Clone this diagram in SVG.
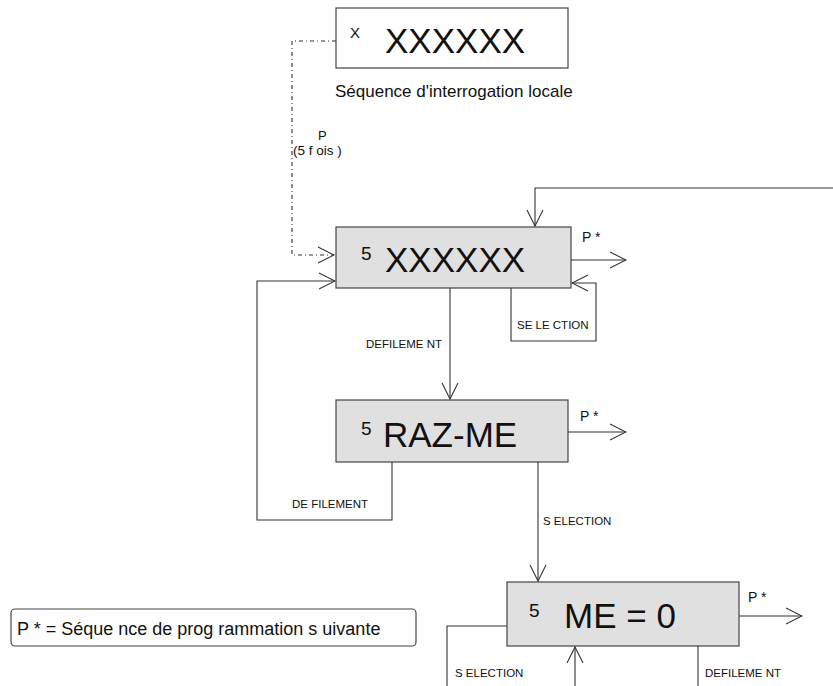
<svg xmlns="http://www.w3.org/2000/svg" width="833" height="686" viewBox="0 0 833 686">
<style>
text{font-family:"Liberation Sans",Arial,sans-serif;fill:#111}
.box{fill:#e0e0e0;stroke:#444;stroke-width:1.2}
.wbox{fill:#fff;stroke:#444;stroke-width:1.2}
.ln{fill:none;stroke:#333;stroke-width:1.1}
.dot{fill:none;stroke:#333;stroke-width:1.1;stroke-dasharray:4,3,1,3}
.big{font-size:35px}
.num{font-size:19px}
.lbl{font-size:11.5px}
.p{font-size:14px}
</style>
<defs>
<marker id="ah" viewBox="-17 -10 18 20" markerWidth="18" markerHeight="20" refX="0" refY="0" orient="auto" markerUnits="userSpaceOnUse">
<path d="M-16,-8 L0,0 L-16,8" fill="none" stroke="#333" stroke-width="1.1"/>
</marker>
</defs>
<rect width="833" height="686" fill="#fff"/>

<g id="top-node">
<rect class="wbox" x="336" y="8" width="232" height="60"/>
<text x="350" y="38" style="font-size:15px">X</text>
<text class="big" x="385" y="53">XXXXXX</text>
<text x="335" y="97" style="font-size:17px">Séquence d'interrogation locale</text>
</g>

<g id="node-xxxxxx">
<rect class="box" x="336" y="227" width="235" height="61"/>
<text class="num" x="361" y="260">5</text>
<text class="big" x="385" y="272">XXXXXX</text>
</g>

<g id="node-razme">
<rect class="box" x="336" y="400" width="232" height="62"/>
<text class="num" x="361" y="435">5</text>
<text class="big" x="383" y="447">RAZ-ME</text>
</g>

<g id="node-me0">
<rect class="box" x="507" y="582" width="232" height="64"/>
<text class="num" x="529" y="617">5</text>
<text class="big" x="564" y="628">ME = 0</text>
</g>

<g id="legend">
<rect class="wbox" x="11" y="609" width="405" height="37" rx="4"/>
<text x="17" y="635" style="font-size:18px">P * = Séque nce de prog rammation s uivante</text>
</g>

<g id="connectors">
<path class="dot" d="M336,41 H292 V255 H334" marker-end="url(#ah)"/>
<text x="318" y="140" style="font-size:13px">P</text>
<text x="293" y="155" style="font-size:13.5px">(5 f ois )</text>

<path class="ln" d="M833,188 H535 V226" marker-end="url(#ah)"/>

<path class="ln" d="M571,260 H626" marker-end="url(#ah)"/>
<text class="p" x="582" y="242">P *</text>
<path class="ln" d="M568,432 H626" marker-end="url(#ah)"/>
<text class="p" x="580" y="421">P *</text>
<path class="ln" d="M739,616 H802" marker-end="url(#ah)"/>
<text class="p" x="748" y="602">P *</text>

<path class="ln" d="M511,288 V341 H596 V283 H572" marker-end="url(#ah)"/>
<text class="lbl" x="517" y="329">SE LE CTION</text>

<path class="ln" d="M450,288 V399" marker-end="url(#ah)"/>
<text class="lbl" x="366" y="348">DEFILEME NT</text>

<path class="ln" d="M392,462 V520 H257 V281 H335" marker-end="url(#ah)"/>
<text class="lbl" x="292" y="508">DE FILEMENT</text>

<path class="ln" d="M538,462 V581" marker-end="url(#ah)"/>
<text class="lbl" x="543" y="525">S ELECTION</text>

<path class="ln" d="M507,626 H447 V686"/>
<text class="lbl" x="455" y="677">S ELECTION</text>
<path class="ln" d="M575,686 V647" marker-end="url(#ah)"/>
<path class="ln" d="M698,646 V686"/>
<text class="lbl" x="705" y="677">DEFILEME NT</text>
</g>
</svg>
